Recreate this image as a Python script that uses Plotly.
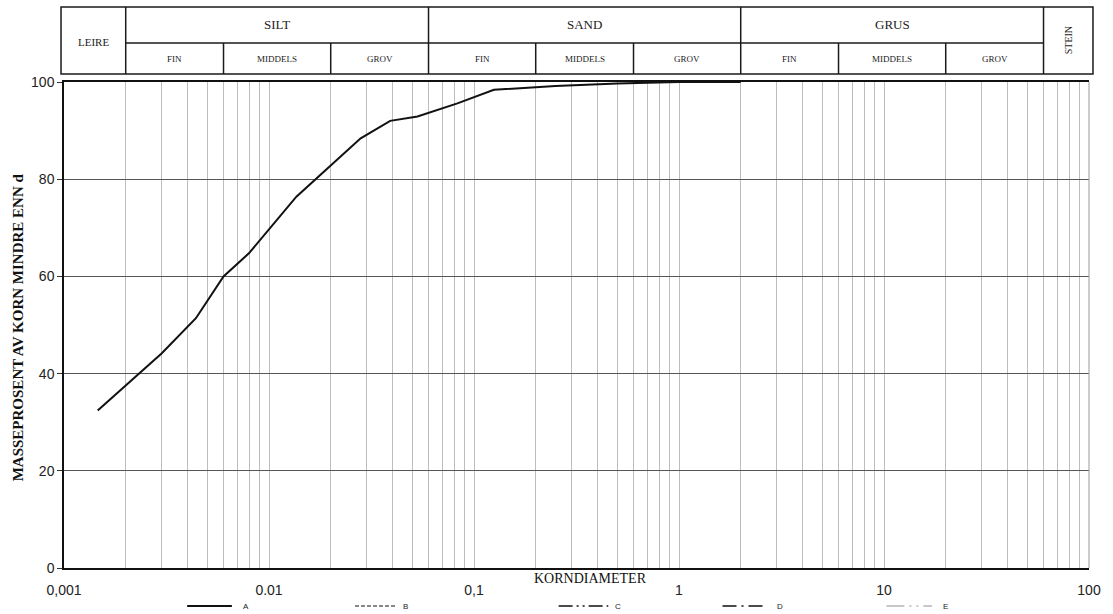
import math
import plotly.graph_objects as go

# Grain size distribution (kornfordeling), curve A
diameter_mm = [0.00146, 0.002, 0.003, 0.0044, 0.006, 0.008, 0.0101, 0.0136,
               0.02, 0.028, 0.039, 0.053, 0.083, 0.125, 0.25, 0.5, 1.0, 2.0]
passing_pct = [32.4, 37.5, 44.2, 51.4, 60.0, 64.8, 69.9, 76.4,
               82.8, 88.4, 92.0, 92.9, 95.6, 98.4, 99.2, 99.7, 100.0, 100.0]

# Axis ticks
x_label_vals = [0.001, 0.01, 0.1, 1, 10, 100]
x_label_text = ["0,001", "0.01", "0,1", "1", "10", "100"]
y_tick_vals = [0, 20, 40, 60, 80, 100]

# Soil classes (name, lower, upper in mm) and their subdivisions
main_classes = [("LEIRE", 0.001, 0.002), ("SILT", 0.002, 0.06),
                ("SAND", 0.06, 2.0), ("GRUS", 2.0, 60.0), ("STEIN", 60.0, 100.0)]
sub_names = ["FIN", "MIDDELS", "GROV"]
sub_bounds = {"SILT": [0.002, 0.006, 0.02, 0.06],
              "SAND": [0.06, 0.2, 0.6, 2.0],
              "GRUS": [2.0, 6.0, 20.0, 60.0]}

# Legend keys
legend_keys = ["A", "B", "C", "D", "E"]

SERIF = "Liberation Serif, Times New Roman, serif"
SANS = "Liberation Sans, Arial, sans-serif"

W, H = 1113, 614
L, R, T, B = 64, 17, 82, 46
PW, PH = W - L - R, H - T - B


def px_x(px):
    return (px - L) / PW


def px_y(py):
    return (H - B - py) / PH


def log_x(d):
    return (math.log10(d) + 3) / 5


def label(text, x, y, size, family=SERIF, angle=0, xanchor="center", color="#222"):
    return dict(text=text, xref="paper", yref="paper", x=x, y=y, textangle=angle,
                xanchor=xanchor, yanchor="middle", showarrow=False,
                font=dict(family=family, size=size, color=color))


fig = go.Figure()
fig.add_trace(go.Scatter(x=diameter_mm, y=passing_pct, mode="lines",
                         line=dict(color="#111111", width=2),
                         showlegend=False, hoverinfo="x+y"))

# vertical grid at 1..9 of each decade
grid_vals = [m * 10 ** e for e in range(-3, 2) for m in range(1, 10)] + [100]
grid_vals = [round(v, 6) for v in grid_vals]
grid_text = [x_label_text[x_label_vals.index(v)] if v in x_label_vals else ""
             for v in grid_vals]

shapes = []
annotations = []

# header table
y_top, y_mid, y_bot = px_y(7), px_y(43), px_y(74)
x_left, x_right = px_x(61), px_x(1100)
line_k = dict(color="#1a1a1a", width=1.5)
shapes.append(dict(type="rect", xref="paper", yref="paper", x0=x_left, x1=x_right,
                   y0=y_bot, y1=y_top, line=line_k))
for name, lo, hi in main_classes[1:]:
    shapes.append(dict(type="line", xref="paper", yref="paper", x0=log_x(lo), x1=log_x(lo),
                       y0=y_bot, y1=y_top, line=line_k))
shapes.append(dict(type="line", xref="paper", yref="paper", x0=log_x(0.002), x1=log_x(60),
                   y0=y_mid, y1=y_mid, line=line_k))

for name, lo, hi in main_classes:
    if name in sub_bounds:
        cx = (log_x(lo) + log_x(hi)) / 2
        annotations.append(label(name, cx, px_y(25), 13))
        bnds = sub_bounds[name]
        for i, sub in enumerate(sub_names):
            if i > 0:
                shapes.append(dict(type="line", xref="paper", yref="paper",
                                   x0=log_x(bnds[i]), x1=log_x(bnds[i]),
                                   y0=y_bot, y1=y_mid, line=line_k))
            scx = (log_x(bnds[i]) + log_x(bnds[i + 1])) / 2
            annotations.append(label(sub, scx, px_y(58.5), 9))
    elif name == "LEIRE":
        annotations.append(label(name, (x_left + log_x(hi)) / 2, px_y(42), 11))
    else:
        annotations.append(label(name, (log_x(lo) + x_right) / 2, px_y(40), 10, angle=-90))

# right border of the plot area
shapes.append(dict(type="line", xref="paper", yref="paper", x0=1, x1=1, y0=0, y1=1,
                   line=dict(color="#999999", width=1)))

# axis titles
annotations.append(label("KORNDIAMETER", px_x(594), px_y(578), 14, color="#111"))
annotations.append(label("<b>MASSEPROSENT AV KORN MINDRE ENN d</b>", px_x(18), px_y(327),
                         15, angle=-90, color="#111"))

# legend keys drawn below the axis
key_styles = [
    (188, 233, dict(color="#111", width=2, dash="solid")),
    (357, 398, dict(color="#111", width=1, dash="4px,2px")),
    (562, 612, dict(color="#111", width=1.5, dash="14px,4px,2px,4px,2px,4px")),
    (727, 772, dict(color="#111", width=1.5, dash="14px,5px,2px,5px")),
    (892, 938, dict(color="#c8c8c8", width=2, dash="18px,5px,2px,5px,2px,5px")),
]
key_text_px = [242, 403, 617, 780, 947]
ky = px_y(606)
for (x0, x1, ln), tx, key in zip(key_styles, key_text_px, legend_keys):
    shapes.append(dict(type="line", xref="paper", yref="paper", x0=px_x(x0), x1=px_x(x1),
                       y0=ky, y1=ky, line=ln))
    annotations.append(label(key, px_x(tx), ky, 8, family=SANS, xanchor="left"))

fig.update_layout(
    width=W, height=H,
    margin=dict(l=L, r=R, t=T, b=B, pad=0),
    paper_bgcolor="white", plot_bgcolor="white",
    showlegend=False,
    shapes=shapes,
    annotations=annotations,
    xaxis=dict(type="log", range=[-3, 2], tickmode="array", tickvals=grid_vals,
               ticktext=grid_text, showgrid=True, gridcolor="#bdbdbd", gridwidth=1,
               showline=True, linecolor="#111", linewidth=1.5, mirror=True,
               ticks="", ticklabelstandoff=8,
               tickfont=dict(family=SANS, size=14, color="#222"),
               zeroline=False),
    yaxis=dict(range=[0, 100], tickmode="array", tickvals=y_tick_vals,
               showgrid=True, gridcolor="#555555", gridwidth=1,
               showline=True, linecolor="#111", linewidth=1.5,
               ticks="outside", ticklen=5, tickcolor="#333",
               tickfont=dict(family=SANS, size=14, color="#222"),
               zeroline=False),
)

fig.write_html("out.html")
